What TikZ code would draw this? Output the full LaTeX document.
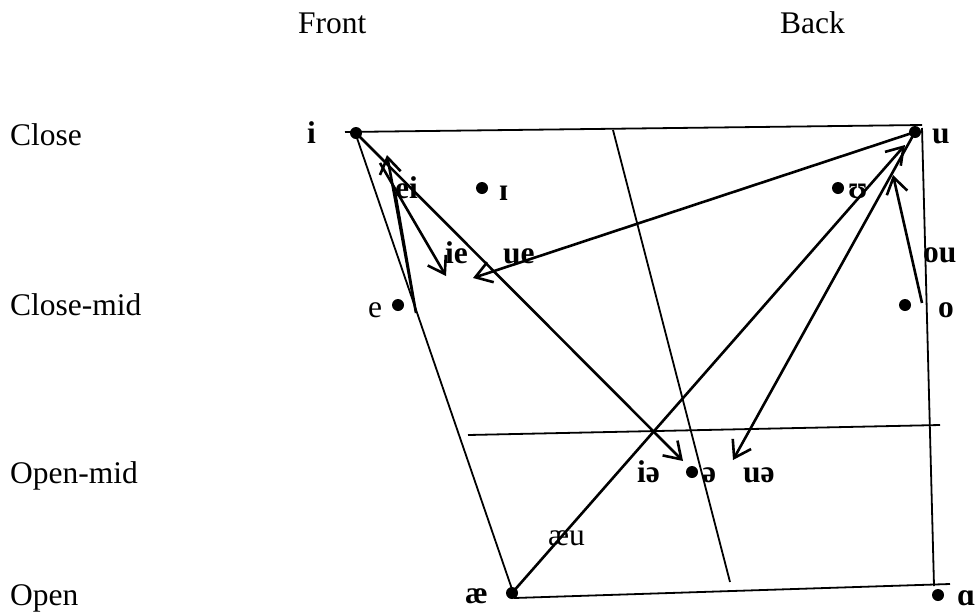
\documentclass[tikz,border=0pt]{standalone}
\usepackage{fontspec}
\setmainfont{Liberation Serif}
\usetikzlibrary{arrows.meta}

\begin{document}
\begin{tikzpicture}[
    x=1pt, y=-1pt,
    txt/.style={anchor=base west, inner sep=0pt, font=\fontsize{31.5}{36}\selectfont},
    vowel/.style={anchor=base west, inner sep=0pt, font=\fontsize{31.5}{36}\selectfont\bfseries},
    dot/.style={circle, fill=black, inner sep=0pt, minimum size=12pt},
    chart/.style={draw, line width=1.8pt},
    glide/.style={draw, line width=2.6pt, -{Straight Barb[length=16pt, width=21pt]}}
]
    \useasboundingbox (0,0) rectangle (976,611);

    % axis labels
    \node [txt] (front) at (298,33) {Front};
    \node [txt] (back) at (780,33) {Back};
    \node [txt] (close) at (10,145) {Close};
    \node [txt] (closemid) at (10,315) {Close-mid};
    \node [txt] (openmid) at (10,483) {Open-mid};
    \node [txt] (open) at (10,605) {Open};

    % chart frame
    \coordinate (tl) at (345,132);
    \coordinate (tr) at (922,125);
    \coordinate (lt) at (357,138);
    \coordinate (lb) at (514,595);
    \coordinate (bl) at (514,598);
    \coordinate (br) at (950,584);
    \coordinate (rt) at (922,128);
    \coordinate (rb) at (934,586);
    \coordinate (ml) at (468,435);
    \coordinate (mr) at (940,425);
    \coordinate (st) at (613,130);
    \coordinate (sb) at (730,582);
    \draw [chart] (tl) -- (tr);
    \draw [chart] (lt) -- (lb);
    \draw [chart] (bl) -- (br);
    \draw [chart] (rt) -- (rb);
    \draw [chart] (ml) -- (mr);
    \draw [chart] (st) -- (sb);

    % vowels
    \node [dot] (i) at (356,133) {};
    \node [dot] (I) at (482,188) {};
    \node [dot] (e) at (398,305) {};
    \node [dot] (u) at (915,132) {};
    \node [dot] (U) at (838,188) {};
    \node [dot] (o) at (905,305) {};
    \node [dot] (schwa) at (692,472) {};
    \node [dot] (ae) at (512,593) {};
    \node [dot] (a) at (938,595) {};

    \node [vowel] (i_l) at (307,143) {i};
    \node [vowel] (I_l) at (499,200) {ɪ};
    \node [txt] (e_l) at (368,317) {e};
    \node [vowel] (u_l) at (932,143) {u};
    \node [vowel] (U_l) at (848,198) {ʊ};
    \node [vowel] (o_l) at (938,317) {o};
    \node [vowel] (schwa_l) at (702,482) {ə};
    \node [vowel] (ae_l) at (465,603) {æ};
    \node [vowel] (a_l) at (957,605) {ɑ};

    % diphthong labels
    \node [vowel] (ei_l) at (395,198) {ei};
    \node [vowel] (ie_l) at (445,263) {ie};
    \node [vowel] (ue_l) at (503,263) {ue};
    \node [vowel] (ou_l) at (923,262) {ou};
    \node [vowel] (ia_l) at (637,482) {iə};
    \node [vowel] (ua_l) at (743,482) {uə};
    \node [txt] (aeu_l) at (548,545) {æu};

    % diphthong glides
    \coordinate (eiK) at (395,192);
    \coordinate (eiB) at (416,313);
    \coordinate (eiE) at (387,155);
    \coordinate (ieS) at (380,163);
    \coordinate (ieE) at (446,276);
    \coordinate (iaE) at (683,461);
    \coordinate (ueE) at (473,278);
    \coordinate (uaE) at (733,460);
    \coordinate (aeuE) at (905,145);
    \coordinate (ouS) at (922,303);
    \coordinate (ouE) at (893,175);

    \draw [glide] (eiK) -- (eiB) -- (eiE);
    \draw [glide] (ieS) -- (ieE);
    \draw [glide] (i.center) -- (iaE);
    \draw [glide] (u.center) -- (ueE);
    \draw [glide] (u.center) -- (uaE);
    \draw [glide] (ae.center) -- (aeuE);
    \draw [glide] (ouS) -- (ouE);
\end{tikzpicture}
\end{document}
